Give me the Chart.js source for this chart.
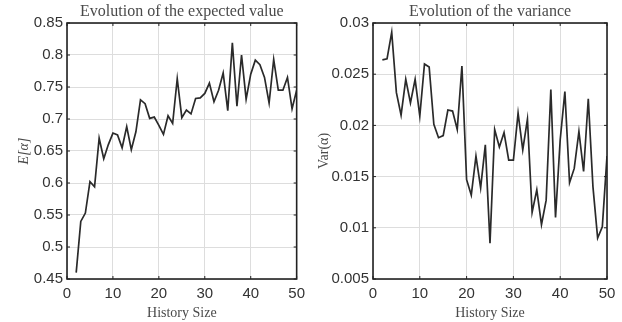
<!DOCTYPE html>
<html>
<head>
<meta charset="utf-8">
<script src="https://cdn.jsdelivr.net/npm/chart.js@4.4.1/dist/chart.umd.min.js"></script>
<style>
  html, body { margin: 0; padding: 0; background: #fff; }
  .wrap { position: absolute; top: 0; width: 311px; height: 322px; }
</style>
</head>
<body>
<div class="wrap" style="left:0"><canvas id="meanChart"></canvas></div>
<div class="wrap" style="left:311px"><canvas id="varChart"></canvas></div>
<script>
// history sizes 2..50
const historySize = [2, 3, 4, 5, 6, 7, 8, 9, 10, 11, 12, 13, 14, 15, 16, 17, 18, 19, 20, 21,
  22, 23, 24, 25, 26, 27, 28, 29, 30, 31, 32, 33, 34, 35, 36, 37, 38, 39, 40, 41,
  42, 43, 44, 45, 46, 47, 48, 49, 50];

const expectedValue = [0.46, 0.54, 0.553, 0.602, 0.594, 0.670, 0.638, 0.660, 0.678, 0.675,
  0.655, 0.688, 0.652, 0.680, 0.730, 0.724, 0.701, 0.703, 0.690, 0.676,
  0.705, 0.693, 0.763, 0.702, 0.714, 0.708, 0.732, 0.733, 0.740, 0.756,
  0.727, 0.745, 0.772, 0.713, 0.819, 0.720, 0.800, 0.731, 0.770, 0.792,
  0.785, 0.765, 0.725, 0.793, 0.745, 0.745, 0.765, 0.716, 0.745];

const variance = [0.0264, 0.0265, 0.0291, 0.0232, 0.0210, 0.0245, 0.0222, 0.0245, 0.0209, 0.0260,
  0.0257, 0.0201, 0.0188, 0.0190, 0.0215, 0.0214, 0.0196, 0.0258, 0.0147, 0.0132,
  0.0170, 0.0139, 0.0181, 0.0085, 0.0196, 0.0179, 0.0193, 0.0166, 0.0166, 0.0212,
  0.0176, 0.0206, 0.0115, 0.0137, 0.0103, 0.0127, 0.0235, 0.0110, 0.0186, 0.0233,
  0.0144, 0.0158, 0.0194, 0.0155, 0.0226, 0.0140, 0.0090, 0.0101, 0.0170];

const meanTicks = [0.45, 0.5, 0.55, 0.6, 0.65, 0.7, 0.75, 0.8, 0.85];
const varTicks = [0.005, 0.01, 0.015, 0.02, 0.025, 0.03];

const tickFont = { family: 'Liberation Sans, Arial, sans-serif', size: 15 };
const serifFamily = 'Liberation Serif, Times New Roman, serif';

// box around the plot area, inward tick marks (matlab style) and a title centred over the axes
const boxPlugin = {
  id: 'box',
  afterDraw(chart, args, opts) {
    const { ctx, chartArea: a, scales } = chart;
    ctx.save();
    ctx.strokeStyle = '#222';
    ctx.lineWidth = 1;
    scales.x.ticks.forEach(t => {
      const px = scales.x.getPixelForValue(t.value);
      ctx.beginPath();
      ctx.moveTo(px, a.bottom); ctx.lineTo(px, a.bottom - 3);
      ctx.moveTo(px, a.top); ctx.lineTo(px, a.top + 3);
      ctx.stroke();
    });
    scales.y.ticks.forEach(t => {
      const py = scales.y.getPixelForValue(t.value);
      ctx.beginPath();
      ctx.moveTo(a.left, py); ctx.lineTo(a.left + 3, py);
      ctx.moveTo(a.right, py); ctx.lineTo(a.right - 3, py);
      ctx.stroke();
    });
    ctx.lineWidth = 1.6;
    ctx.strokeRect(a.left, a.top, a.right - a.left, a.bottom - a.top);

    ctx.fillStyle = '#4a4a4a';
    ctx.font = '16px ' + serifFamily;
    ctx.textAlign = 'center';
    ctx.textBaseline = 'middle';
    ctx.fillText(opts.text, (a.left + a.right) / 2, 12);
    ctx.restore();
  }
};

function makeChart(id, title, yLabel, yStyle, values, yTicks, yWidth, padRight, yTitlePad) {
  const ctx = document.getElementById(id).getContext('2d');
  return new Chart(ctx, {
    type: 'line',
    data: {
      datasets: [{
        data: historySize.map((h, i) => ({ x: h, y: values[i] })),
        borderColor: '#2a2a2a',
        borderWidth: 1.7,
        pointRadius: 0,
        tension: 0,
        fill: false
      }]
    },
    options: {
      responsive: true,
      maintainAspectRatio: false,
      animation: false,
      layout: { padding: { left: 0, right: padRight, top: 23, bottom: 0 } },
      plugins: {
        legend: { display: false },
        tooltip: { enabled: false },
        title: { display: false },
        box: { text: title }
      },
      scales: {
        x: {
          type: 'linear',
          min: 0,
          max: 50,
          ticks: { stepSize: 10, color: '#333', font: tickFont, padding: 6 },
          grid: { color: '#ddd', drawTicks: false },
          border: { display: false },
          title: { display: true, text: 'History Size', color: '#4a4a4a', font: { family: serifFamily, size: 14 }, padding: 0 },
          afterFit(scale) { scale.height = 43; }
        },
        y: {
          type: 'linear',
          min: yTicks[0],
          max: yTicks[yTicks.length - 1],
          afterBuildTicks(scale) { scale.ticks = yTicks.map(v => ({ value: v })); },
          ticks: { color: '#333', font: tickFont, padding: 4, callback: v => String(v) },
          grid: { color: '#ddd', drawTicks: false },
          border: { display: false },
          title: {
            display: true, text: yLabel, color: '#4a4a4a',
            font: { family: serifFamily, size: 14, style: yStyle },
            padding: { top: yTitlePad, bottom: 0 }
          },
          afterFit(scale) { scale.width = yWidth; }
        }
      }
    },
    plugins: [boxPlugin]
  });
}

makeChart('meanChart', 'Evolution of the expected value', 'E[α]', 'italic', expectedValue, meanTicks, 67, 11, 16);
makeChart('varChart', 'Evolution of the variance', 'Var(α)', 'normal', variance, varTicks, 62, 15, 5);
</script>
</body>
</html>
